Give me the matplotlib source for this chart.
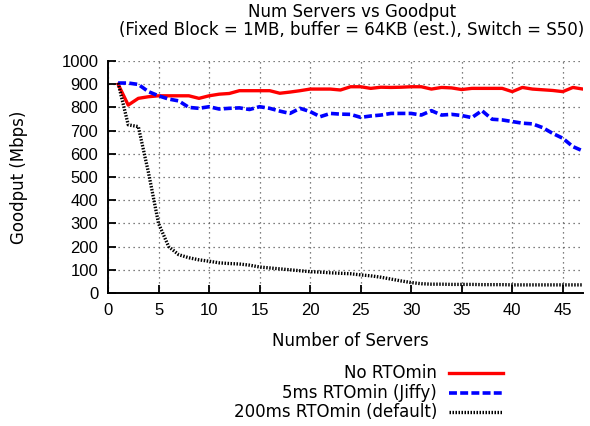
import matplotlib
matplotlib.use("Agg")
import matplotlib.pyplot as plt
from matplotlib.lines import Line2D

plt.rcParams['font.family'] = ['Liberation Sans', 'DejaVu Sans']

servers = list(range(1, 48))
no_rtomin = [900, 810, 839, 846, 850, 850, 850, 850, 839, 850, 857, 860, 872, 872, 872,
             872, 861, 866, 872, 879, 879, 879, 875, 889, 889, 882, 887, 886, 887, 889,
             889, 879, 886, 884, 877, 882, 882, 882, 882, 868, 886, 879, 876, 873, 868,
             886, 879]
jiffy = [905, 905, 899, 868, 850, 836, 828, 800, 796, 803, 793, 796, 798, 791, 803,
         796, 784, 774, 796, 782, 760, 774, 771, 770, 757, 763, 767, 774, 774, 774,
         767, 786, 767, 770, 765, 756, 786, 749, 746, 739, 732, 729, 713, 688, 667,
         631, 612]
default = [905, 725, 717, 520, 300, 200, 165, 152, 143, 137, 130, 127, 125, 120, 112,
           108, 104, 100, 96, 92, 90, 87, 85, 83, 78, 74, 68, 60, 52, 45,
           40, 38, 38, 37, 37, 37, 36, 36, 36, 35, 35, 35, 35, 35, 35, 35, 35]

labels = ["No RTOmin", "5ms RTOmin (Jiffy)", "200ms RTOmin (default)"]
title = "Num Servers vs Goodput\n(Fixed Block = 1MB, buffer = 64KB (est.), Switch = S50)"
xticks = list(range(0, 50, 5))
yticks = list(range(0, 1001, 100))

FS = 12
TF = ['DejaVu Sans']

fig = plt.figure(figsize=(5.90, 4.26), dpi=100)
ax = fig.add_axes([108/590, 133/426, 475/590, 232/426])

styles = [
    dict(color='#ff0000', linewidth=2.4, linestyle='-'),
    dict(color='#0000ff', linewidth=2.6, linestyle=(0, (2.2, 0.9))),
    dict(color='#000000', linewidth=2.4, linestyle=(0, (0.45, 0.45))),
]
series = [no_rtomin, jiffy, default]
for s, st in zip(series, styles):
    ax.plot(servers, s, **st)

ax.set_xlim(0, 47)
ax.set_ylim(0, 1000)
ax.set_xticks(xticks)
ax.set_yticks(yticks)
ax.tick_params(direction='in', length=6, width=1.3, labelsize=FS, pad=7)
ax.tick_params(axis='x', pad=7)
for sp in ['top', 'right']:
    ax.spines[sp].set_visible(False)
for sp in ['left', 'bottom']:
    ax.spines[sp].set_linewidth(1.4)
ax.grid(True, color='#555555', linestyle=(0, (1, 3)), linewidth=0.9)
ax.set_axisbelow(True)

fig.text(350/590, 1 - 341/426, "Number of Servers", ha='center', va='center', fontsize=FS, family=TF)
fig.text(19/590, 1 - 177/426, "Goodput (Mbps)", ha='center', va='center', rotation=90, fontsize=FS, family=TF)
fig.text(352/590, 1 - 21/426, title, ha='center', va='center', fontsize=FS, linespacing=1.0, family=TF)

# legend (gnuplot style: right-aligned text, sample to the right)
rows = [373, 393, 412]
for lab, st, yy in zip(labels, styles, rows):
    yf = 1 - yy/426
    fig.text(437/590, yf, lab, ha='right', va='center', fontsize=FS, family=TF)
    fig.add_artist(Line2D([449/590, 503/590], [yf, yf], transform=fig.transFigure, **st))

fig.savefig("out.png", dpi=100)
